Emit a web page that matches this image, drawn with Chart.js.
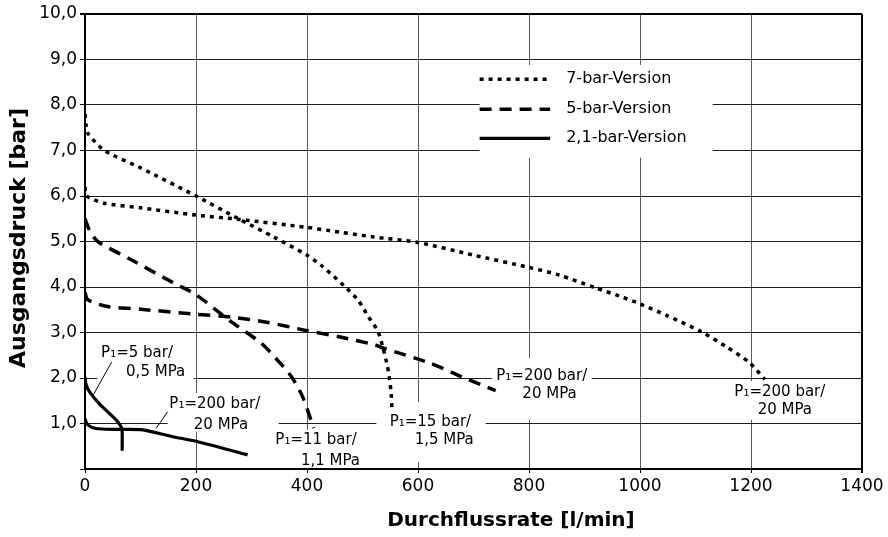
<!DOCTYPE html>
<html>
<head>
<meta charset="utf-8">
<script src="https://cdn.jsdelivr.net/npm/chart.js@4.4.1/dist/chart.umd.min.js"></script>
<style>
  body { margin: 0; background: #fff; }
  #wrap { width: 888px; height: 537px; }
</style>
</head>
<body>
<div id="wrap"><canvas id="chart"></canvas></div>
<script>
// Achsenbeschriftung
const xTickLabels = ['0', '200', '400', '600', '800', '1000', '1200', '1400'];
const yTickLabels = ['', '1,0', '2,0', '3,0', '4,0', '5,0', '6,0', '7,0', '8,0', '9,0', '10,0'];
const versionen = ['7-bar-Version', '5-bar-Version', '2,1-bar-Version'];

// 7-bar-Version, P1=15 bar
const flow7_15 = [0, 2, 5, 35, 100, 200, 275, 340, 400, 428, 468, 492, 510, 528, 537, 545, 549, 552, 553];
const druck7_15 = [7.8, 7.55, 7.38, 7.0, 6.62, 6.0, 5.51, 5.1, 4.70, 4.45, 4.01, 3.71, 3.36, 3.02, 2.66, 2.25, 1.96, 1.6, 1.35];
// 7-bar-Version, P1=200 bar
const flow7_200 = [0, 3, 35, 100, 200, 275, 400, 440, 520, 600, 700, 800, 855, 920, 963, 1000, 1047, 1110, 1155, 1197, 1225];
const druck7_200 = [6.2, 6.0, 5.84, 5.74, 5.58, 5.49, 5.31, 5.24, 5.10, 4.98, 4.70, 4.43, 4.26, 3.98, 3.80, 3.63, 3.38, 3.02, 2.69, 2.34, 1.97];

// 5-bar-Version, P1=11 bar
const flow5_11 = [0, 8, 23, 80, 161, 200, 263, 317, 350, 372, 392, 412];
const druck5_11 = [5.5, 5.25, 5.0, 4.62, 4.08, 3.83, 3.24, 2.77, 2.35, 2.03, 1.59, 0.9];
// 5-bar-Version, P1=200 bar
const flow5_200 = [0, 5, 41, 101, 200, 263, 330, 400, 460, 522, 537, 621, 680, 740];
const druck5_200 = [3.88, 3.72, 3.57, 3.51, 3.40, 3.34, 3.22, 3.04, 2.9, 2.73, 2.66, 2.33, 2.02, 1.72];

// 2,1-bar-Version, P1=5 bar
const flow2_5 = [0, 2, 8, 26, 44, 59, 66, 67, 67];
const druck2_5 = [2.02, 1.85, 1.7, 1.43, 1.22, 1.04, 0.9, 0.8, 0.4];
// 2,1-bar-Version, P1=200 bar
const flow2_200 = [0, 5, 20, 56, 104, 158, 200, 293];
const druck2_200 = [1.1, 0.97, 0.89, 0.87, 0.86, 0.71, 0.61, 0.31];

// Beschriftungen an den Kurven (Position in Achsenwerten)
const anmerkungen = [
  { zeilen: [['P₁=5 bar/', 29, 2.55], ['0,5 MPa', 74, 2.12]], box: [22, 196, 2.84, 1.82], strich: [48, 2.35, 15, 1.63] },
  { zeilen: [['P₁=200 bar/', 152, 1.43], ['20 MPa', 196, 0.97]], box: [149, 349, 1.67, 0.82], strich: [149, 1.26, 128, 0.89] },
  { zeilen: [['P₁=11 bar/', 343, 0.64], ['1,1 MPa', 389, 0.18]], box: [340, 498, 0.86, 0.03], strich: null },
  { zeilen: [['P₁=15 bar/', 549, 1.04], ['1,5 MPa', 594, 0.64]], box: [525, 722, 1.47, 0.15], strich: null },
  { zeilen: [['P₁=200 bar/', 741, 2.04], ['20 MPa', 788, 1.65]], box: [733, 913, 2.44, 1.08], strich: null },
  { zeilen: [['P₁=200 bar/', 1170, 1.70], ['20 MPa', 1212, 1.30]], box: [1167, 1332, 1.93, 1.08], strich: null }
];

const toPoints = (xs, ys) => xs.map((x, i) => ({ x: x, y: ys[i] }));

const dotted = { borderColor: '#000', borderWidth: 3.5, borderDash: [4, 5] };
const dashed = { borderColor: '#000', borderWidth: 3.5, borderDash: [12, 8] };
const solid = { borderColor: '#000', borderWidth: 3.2, borderDash: [] };

const serie = (label, xs, ys, style) => Object.assign({
  label: label,
  data: toPoints(xs, ys),
  showLine: true,
  pointRadius: 0,
  tension: 0.25,
  fill: false
}, style);

// eigene Legende, Notizen und Achsentitel
const beschriftung = {
  id: 'beschriftung',
  beforeDatasetsDraw(chart) {
    const ctx = chart.ctx;
    const sx = chart.scales.x, sy = chart.scales.y;
    const px = (v) => sx.getPixelForValue(v);
    const py = (v) => sy.getPixelForValue(v);
    ctx.save();
    ctx.fillStyle = '#fff';
    // Legende
    ctx.fillRect(px(711), py(8.88), px(1131) - px(711), py(6.84) - py(8.88));
    anmerkungen.forEach(a => {
      ctx.fillRect(px(a.box[0]), py(a.box[2]), px(a.box[1]) - px(a.box[0]), py(a.box[3]) - py(a.box[2]));
    });
    ctx.fillStyle = '#000';
    ctx.font = '15px "DejaVu Sans"';
    ctx.textAlign = 'left';
    ctx.textBaseline = 'middle';
    anmerkungen.forEach(a => {
      a.zeilen.forEach(z => ctx.fillText(z[0], px(z[1]), py(z[2])));
      if (a.strich) {
        ctx.strokeStyle = '#000';
        ctx.lineWidth = 1;
        ctx.beginPath();
        ctx.moveTo(px(a.strich[0]), py(a.strich[1]));
        ctx.lineTo(px(a.strich[2]), py(a.strich[3]));
        ctx.stroke();
      }
    });
    // Legende: Linienmuster + Text
    const reihen = [8.565, 7.905, 7.268];
    const ds = chart.data.datasets;
    ctx.font = '16px "DejaVu Sans"';
    [0, 2, 4].forEach((d, i) => {
      const y = py(reihen[i]);
      ctx.strokeStyle = ds[d].borderColor;
      ctx.lineWidth = ds[d].borderWidth;
      ctx.setLineDash(ds[d].borderDash);
      ctx.beginPath();
      ctx.moveTo(px(711), y);
      ctx.lineTo(px(838), y);
      ctx.stroke();
      ctx.setLineDash([]);
      ctx.fillText(versionen[i], px(867), y);
    });
    ctx.restore();
  },
  afterDraw(chart) {
    const ctx = chart.ctx;
    ctx.save();
    ctx.fillStyle = '#000';
    ctx.textAlign = 'center';
    ctx.textBaseline = 'middle';
    ctx.font = 'bold 20px "DejaVu Sans"';
    ctx.fillText('Durchflussrate [l/min]', 511, 521);
    ctx.translate(19, 238);
    ctx.rotate(-Math.PI / 2);
    ctx.font = 'bold 22px "DejaVu Sans"';
    ctx.fillText('Ausgangsdruck [bar]', 0, 0);
    ctx.restore();
  }
};

Chart.defaults.font.family = '"DejaVu Sans"';
Chart.defaults.color = '#000';

new Chart(document.getElementById('chart'), {
  type: 'scatter',
  data: {
    datasets: [
      serie(versionen[0], flow7_15, druck7_15, dotted),
      serie(versionen[0], flow7_200, druck7_200, dotted),
      serie(versionen[1], flow5_11, druck5_11, dashed),
      serie(versionen[1], flow5_200, druck5_200, dashed),
      serie(versionen[2], flow2_5, druck2_5, solid),
      serie(versionen[2], flow2_200, druck2_200, solid)
    ]
  },
  options: {
    responsive: true,
    maintainAspectRatio: false,
    animation: false,
    layout: { padding: { top: 14, right: 26, left: 0, bottom: 0 } },
    plugins: {
      legend: { display: false },
      tooltip: { enabled: false }
    },
    scales: {
      x: {
        type: 'linear',
        min: 0,
        max: 1400,
        afterFit: (scale) => { scale.height = 68; },
        border: { color: '#000', width: 2 },
        grid: {
          color: (c) => c.tick && c.tick.value === 1400 ? '#000' : '#5a5a5a',
          lineWidth: (c) => c.tick && c.tick.value === 1400 ? 2 : 1,
          tickLength: 4,
          tickColor: '#000'
        },
        ticks: {
          stepSize: 200,
          padding: 3,
          font: { size: 17 },
          callback: (v) => xTickLabels[v / 200]
        }
      },
      y: {
        type: 'linear',
        min: 0,
        max: 10,
        afterFit: (scale) => { scale.width = 85; },
        border: { color: '#000', width: 2 },
        grid: {
          color: (c) => c.tick && c.tick.value === 10 ? '#000' : '#1e1e1e',
          lineWidth: (c) => c.tick && c.tick.value === 10 ? 2 : 1,
          tickLength: 5,
          tickColor: '#000'
        },
        ticks: {
          stepSize: 1,
          padding: 3,
          font: { size: 17 },
          callback: (v) => yTickLabels[v]
        }
      }
    }
  },
  plugins: [beschriftung]
});
</script>
</body>
</html>
